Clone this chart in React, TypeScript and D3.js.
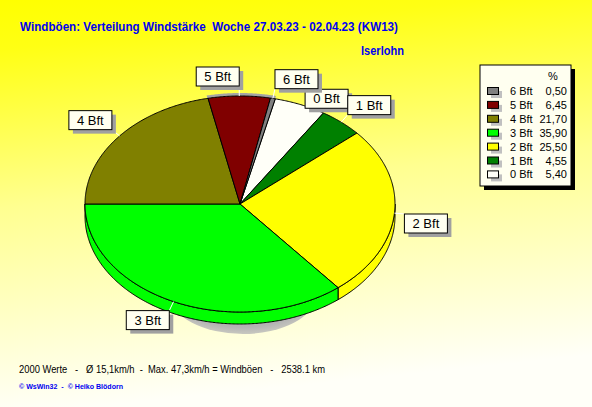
import React from "react";
import * as d3 from "d3";

// Wind force classes (Beaufort) and their share of gust readings in percent
const categories = ["0 Bft", "1 Bft", "2 Bft", "3 Bft", "4 Bft", "5 Bft", "6 Bft"];
const percents = [5.4, 4.55, 25.5, 35.9, 21.7, 6.45, 0.5];
const percentLabels = ["5,40", "4,55", "25,50", "35,90", "21,70", "6,45", "0,50"];

const titleText = "Windböen: Verteilung Windstärke  Woche 27.03.23 - 02.04.23 (KW13)";
const stationText = "Iserlohn";
const footerText = "2000 Werte   -   Ø 15,1km/h  -  Max. 47,3km/h = Windböen   -   2538.1 km";
const creditText = "© WsWin32  -  © Heiko Blödorn";

// Styling
const sliceColors = ["#FFFFF8", "#008000", "#FFFF00", "#00FF00", "#808000", "#800000", "#808080"];
const W = 592;
const H = 407;
const cx = 240;
const cy = 204;
const rx = 155;
const ry = 108;
const depth = 12;
const startDeg = 13.14; // d3 pie angle (0 = 12 o'clock, clockwise)
const labelNudge: Record<string, [number, number]> = { "0 Bft": [1, 13] };
const FONT = "'Liberation Sans', Arial, sans-serif";

// theta: 0 = 3 o'clock, increasing clockwise on screen
const pt = (t: number, dy = 0): [number, number] => [cx + rx * Math.cos(t), cy + dy + ry * Math.sin(t)];

function arcPoints(t0: number, t1: number, dy = 0): [number, number][] {
  const n = Math.max(2, Math.ceil(Math.abs(t1 - t0) / (Math.PI / 360)));
  return d3.range(n + 1).map((i) => pt(t0 + ((t1 - t0) * i) / n, dy));
}

const line = d3.line<[number, number]>();

export default function App() {
  const pie = d3
    .pie<number>()
    .sort(null)
    .value((d) => d)
    .startAngle((startDeg * Math.PI) / 180)
    .endAngle((startDeg * Math.PI) / 180 + 2 * Math.PI);
  const arcs = pie(percents).map((a, i) => ({
    i,
    t0: a.startAngle - Math.PI / 2,
    t1: a.endAngle - Math.PI / 2,
  }));

  // visible side walls (front half of the ellipse, theta in [0, PI] modulo 2PI)
  const sides: { i: number; d: string }[] = [];
  arcs.forEach(({ i, t0, t1 }) => {
    for (const k of [-1, 0, 1]) {
      const lo = Math.max(t0, k * 2 * Math.PI);
      const hi = Math.min(t1, k * 2 * Math.PI + Math.PI);
      if (hi > lo) {
        const top = arcPoints(lo, hi, 0);
        const bottom = arcPoints(hi, lo, depth);
        sides.push({ i, d: line([...top, ...bottom])! + "Z" });
      }
    }
  });

  const tops = arcs.map(({ i, t0, t1 }) => ({
    i,
    d: line([[cx, cy], ...arcPoints(t0, t1, 0)])! + "Z",
  }));

  // Label boxes placed just outside the rim at each slice's mid angle
  const boxW = 43;
  const boxH = 19;
  const labels = arcs.map(({ i, t0, t1 }) => {
    const m = (t0 + t1) / 2;
    const [ex, ey] = pt(m);
    const c = Math.cos(m);
    const s = Math.sin(m);
    const kx = ex + 10 * c;
    const ky = ey + 10 * s;
    const nudge = labelNudge[categories[i]];
    let x = c < 0 ? kx - boxW : kx;
    let y = s < 0 ? ky - boxH : ky;
    if (nudge) {
      x += nudge[0];
      y += nudge[1];
    }
    return { i, ex, ey, kx, ky, x, y, nudged: !!nudge };
  });

  // thin grey rim behind the upper slices
  const rimT0 = arcs[4].t1 - 0.01;
  const rimT1 = arcs[6].t1 + 0.005;
  const rim = line([[cx, cy], ...arcPoints(rimT0, rimT1, -3)])! + "Z";

  const legendX = 480;
  const legendY = 65;
  const legendW = 91;
  const legendH = 121;
  const rowY = d3.scaleLinear().domain([0, 1]).range([91, 91 + 13.9]);
  const legendOrder = d3.range(categories.length).reverse();

  return (
    <svg
      width={W}
      height={H}
      viewBox={`0 0 ${W} ${H}`}
      style={{ position: "absolute", left: 0, top: 0, display: "block" }}
    >
      <defs>
        <linearGradient id="bg" x1="0" y1="0" x2="0.15" y2="1">
          <stop offset="0" stopColor="#FFFF00" />
          <stop offset="0.12" stopColor="#FFFF14" />
          <stop offset="0.5" stopColor="#FFFF90" />
          <stop offset="1" stopColor="#FFFFF8" />
        </linearGradient>
        <radialGradient id="shadow" cx="0.5" cy="0.4" r="0.6">
          <stop offset="0" stopColor="#A8A8A8" />
          <stop offset="0.85" stopColor="#B4B4B4" />
          <stop offset="1" stopColor="#C8C8C0" />
        </radialGradient>
      </defs>
      <rect x={0} y={0} width={W} height={H} fill="url(#bg)" />

      {/* Title */}
      <text
        x={20}
        y={31}
        fontFamily={FONT}
        fontWeight="bold"
        fontSize={13.5}
        fill="#0000F0"
        textLength={378}
        lengthAdjust="spacingAndGlyphs"
        style={{ whiteSpace: "pre" }}
      >
        {titleText}
      </text>
      <text
        x={361}
        y={54.5}
        fontFamily={FONT}
        fontWeight="bold"
        fontSize={13.5}
        fill="#0000F0"
        textLength={43}
        lengthAdjust="spacingAndGlyphs"
      >
        {stationText}
      </text>

      {/* Pie shadow */}
      <ellipse cx={243} cy={296} rx={72} ry={38} fill="url(#shadow)" />
      <path d={rim} fill="#A4A4A4" />

      {/* Side walls */}
      {sides.map((s, k) => (
        <path key={"s" + k} d={s.d} fill={sliceColors[s.i]} stroke="#000" strokeWidth={1} strokeLinejoin="round" />
      ))}
      {/* Top faces */}
      {tops.map((s) => (
        <path key={"t" + s.i} d={s.d} fill={sliceColors[s.i]} stroke="#000" strokeWidth={1} strokeLinejoin="round" />
      ))}

      {/* Leader lines */}
      {labels
        .filter((l) => !l.nudged)
        .map((l) => (
          <line key={"l" + l.i} x1={l.ex} y1={l.ey} x2={l.kx} y2={l.ky} stroke="#FFFFFF" strokeWidth={1} />
        ))}
      {/* Label boxes */}
      {labels.map((l) => (
        <g key={"b" + l.i}>
          <rect x={l.x + 4} y={l.y + 4} width={boxW} height={boxH} fill="#A0A0A0" />
          <rect x={l.x} y={l.y} width={boxW} height={boxH} fill="#FFFFF0" stroke="#000" strokeWidth={1} />
          <text x={l.x + boxW / 2} y={l.y + 14} textAnchor="middle" fontFamily={FONT} fontSize={13} fill="#000">
            {categories[l.i]}
          </text>
        </g>
      ))}

      {/* Legend */}
      <rect x={legendX + 4} y={legendY + 4} width={legendW} height={legendH} fill="#000" />
      <rect x={legendX} y={legendY} width={legendW} height={legendH} fill="#FFFFF0" stroke="#000" strokeWidth={1} />
      <text x={553} y={79.5} textAnchor="middle" fontFamily={FONT} fontSize={11} fill="#000">
        %
      </text>
      {legendOrder.map((ci, row) => {
        const y = rowY(row);
        return (
          <g key={"lg" + ci}>
            <rect x={491} y={y} width={11} height={7} fill="#C0C0C0" />
            <rect x={487.5} y={y - 3.5} width={11} height={7} fill={sliceColors[ci]} stroke="#000" strokeWidth={1} />
            <text x={510} y={y + 4} fontFamily={FONT} fontSize={11} fill="#000">
              {categories[ci]}
            </text>
            <text x={567} y={y + 4} textAnchor="end" fontFamily={FONT} fontSize={11} fill="#000">
              {percentLabels[ci]}
            </text>
          </g>
        );
      })}

      {/* Footer */}
      <text
        x={19}
        y={373}
        fontFamily={FONT}
        fontSize={11}
        fill="#000"
        textLength={306}
        lengthAdjust="spacingAndGlyphs"
        style={{ whiteSpace: "pre" }}
      >
        {footerText}
      </text>
      <text
        x={19}
        y={388.5}
        fontFamily={FONT}
        fontSize={8}
        fontWeight="bold"
        fill="#0000F0"
        textLength={104}
        lengthAdjust="spacingAndGlyphs"
        style={{ whiteSpace: "pre" }}
      >
        {creditText}
      </text>
    </svg>
  );
}
